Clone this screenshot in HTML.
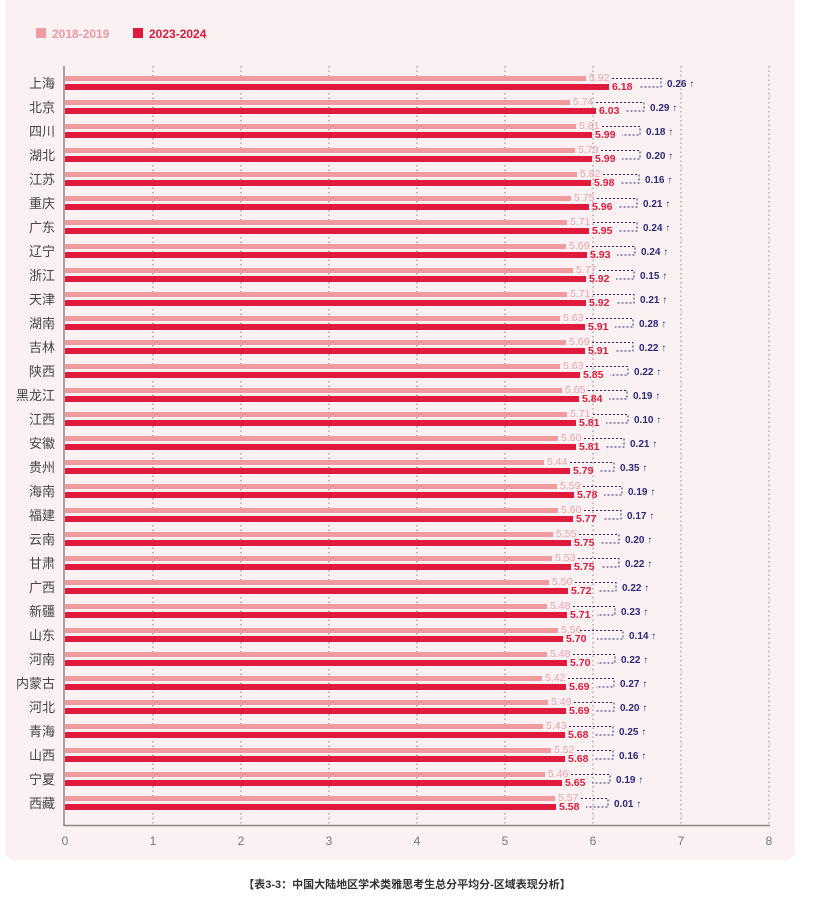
<!DOCTYPE html>
<html><head><meta charset="utf-8"><style>
html,body{margin:0;padding:0;background:#fff;width:814px;height:899px;overflow:hidden}
svg{display:block;font-family:"Liberation Sans","Noto Sans CJK SC",sans-serif}
.l{fill:#ee9aa0}.d{fill:#e01a3c}
.lt{fill:#f0a3aa;font-size:10.5px}.dt{fill:#e01a3c;font-size:10.5px;font-weight:bold}
.br{fill:none;stroke:#2b2a78;stroke-width:1;stroke-dasharray:2,2}
.df{fill:#2b2a78;font-size:10px;font-weight:bold}
.pv{fill:#444;font-size:13px;text-anchor:end}
.g{stroke:#888;stroke-width:1;stroke-dasharray:1.5,3}
.tk{fill:#777;font-size:12px;text-anchor:middle}
.r path{transform:translateX(-4px)}
.r .df{transform:translateX(-4px)}
</style></head><body>
<svg width="814" height="899" viewBox="0 0 814 899">
<rect x="5" y="-10" width="790" height="870" rx="10" fill="#fbf1f3"/>
<rect x="36" y="28" width="10" height="10" fill="#ee9aa0"/>
<text x="52" y="38" font-size="12" font-weight="bold" fill="#ee9aa0">2018-2019</text>
<rect x="133" y="28" width="10" height="10" fill="#e01a3c"/>
<text x="149" y="38" font-size="12" font-weight="bold" fill="#e01a3c">2023-2024</text>
<g>
<line class="g" x1="153" y1="66" x2="153" y2="825"/>
<line class="g" x1="241" y1="66" x2="241" y2="825"/>
<line class="g" x1="329" y1="66" x2="329" y2="825"/>
<line class="g" x1="417" y1="66" x2="417" y2="825"/>
<line class="g" x1="505" y1="66" x2="505" y2="825"/>
<line class="g" x1="593" y1="66" x2="593" y2="825"/>
<line class="g" x1="681" y1="66" x2="681" y2="825"/>
<line class="g" x1="769" y1="66" x2="769" y2="825"/>
</g>
<line x1="64" y1="66" x2="64" y2="826" stroke="#888" stroke-width="1.5"/>
<line x1="64" y1="825.5" x2="770" y2="825.5" stroke="#888" stroke-width="1.5"/>
<g>
<text class="tk" x="65" y="845">0</text><text class="tk" x="153" y="845">1</text><text class="tk" x="241" y="845">2</text><text class="tk" x="329" y="845">3</text><text class="tk" x="417" y="845">4</text><text class="tk" x="505" y="845">5</text><text class="tk" x="593" y="845">6</text><text class="tk" x="681" y="845">7</text><text class="tk" x="769" y="845">8</text>
</g>
<g class="r">
<g transform="translate(65,83)"><text class="pv" x="-10" y="5">上海</text><rect y="-7" width="521" height="5" class="l"/><rect y="1" width="544" height="6" class="d"/><text class="lt" x="524" y="-2">5.92</text><text class="dt" x="547" y="7">6.18</text><path class="br" d="M551 -4.5H600V4H578"/><text class="df" x="606" y="4">0.26 ↑</text></g>
<g transform="translate(65,107)"><text class="pv" x="-10" y="5">北京</text><rect y="-7" width="505" height="5" class="l"/><rect y="1" width="531" height="6" class="d"/><text class="lt" x="508" y="-2">5.74</text><text class="dt" x="534" y="7">6.03</text><path class="br" d="M535 -4.5H583V4H565"/><text class="df" x="589" y="4">0.29 ↑</text></g>
<g transform="translate(65,131)"><text class="pv" x="-10" y="5">四川</text><rect y="-7" width="511" height="5" class="l"/><rect y="1" width="527" height="6" class="d"/><text class="lt" x="514" y="-2">5.81</text><text class="dt" x="530" y="7">5.99</text><path class="br" d="M541 -4.5H579V4H561"/><text class="df" x="585" y="4">0.18 ↑</text></g>
<g transform="translate(65,155)"><text class="pv" x="-10" y="5">湖北</text><rect y="-7" width="510" height="5" class="l"/><rect y="1" width="527" height="6" class="d"/><text class="lt" x="513" y="-2">5.79</text><text class="dt" x="530" y="7">5.99</text><path class="br" d="M540 -4.5H579V4H561"/><text class="df" x="585" y="4">0.20 ↑</text></g>
<g transform="translate(65,179)"><text class="pv" x="-10" y="5">江苏</text><rect y="-7" width="512" height="5" class="l"/><rect y="1" width="526" height="6" class="d"/><text class="lt" x="515" y="-2">5.82</text><text class="dt" x="529" y="7">5.98</text><path class="br" d="M542 -4.5H578V4H560"/><text class="df" x="584" y="4">0.16 ↑</text></g>
<g transform="translate(65,203)"><text class="pv" x="-10" y="5">重庆</text><rect y="-7" width="506" height="5" class="l"/><rect y="1" width="524" height="6" class="d"/><text class="lt" x="509" y="-2">5.75</text><text class="dt" x="527" y="7">5.96</text><path class="br" d="M536 -4.5H576V4H558"/><text class="df" x="582" y="4">0.21 ↑</text></g>
<g transform="translate(65,227)"><text class="pv" x="-10" y="5">广东</text><rect y="-7" width="502" height="5" class="l"/><rect y="1" width="524" height="6" class="d"/><text class="lt" x="505" y="-2">5.71</text><text class="dt" x="527" y="7">5.95</text><path class="br" d="M532 -4.5H576V4H558"/><text class="df" x="582" y="4">0.24 ↑</text></g>
<g transform="translate(65,251)"><text class="pv" x="-10" y="5">辽宁</text><rect y="-7" width="501" height="5" class="l"/><rect y="1" width="522" height="6" class="d"/><text class="lt" x="504" y="-2">5.69</text><text class="dt" x="525" y="7">5.93</text><path class="br" d="M531 -4.5H574V4H556"/><text class="df" x="580" y="4">0.24 ↑</text></g>
<g transform="translate(65,275)"><text class="pv" x="-10" y="5">浙江</text><rect y="-7" width="508" height="5" class="l"/><rect y="1" width="521" height="6" class="d"/><text class="lt" x="511" y="-2">5.77</text><text class="dt" x="524" y="7">5.92</text><path class="br" d="M538 -4.5H573V4H555"/><text class="df" x="579" y="4">0.15 ↑</text></g>
<g transform="translate(65,299)"><text class="pv" x="-10" y="5">天津</text><rect y="-7" width="502" height="5" class="l"/><rect y="1" width="521" height="6" class="d"/><text class="lt" x="505" y="-2">5.71</text><text class="dt" x="524" y="7">5.92</text><path class="br" d="M532 -4.5H573V4H555"/><text class="df" x="579" y="4">0.21 ↑</text></g>
<g transform="translate(65,323)"><text class="pv" x="-10" y="5">湖南</text><rect y="-7" width="495" height="5" class="l"/><rect y="1" width="520" height="6" class="d"/><text class="lt" x="498" y="-2">5.63</text><text class="dt" x="523" y="7">5.91</text><path class="br" d="M525 -4.5H572V4H554"/><text class="df" x="578" y="4">0.28 ↑</text></g>
<g transform="translate(65,347)"><text class="pv" x="-10" y="5">吉林</text><rect y="-7" width="501" height="5" class="l"/><rect y="1" width="520" height="6" class="d"/><text class="lt" x="504" y="-2">5.69</text><text class="dt" x="523" y="7">5.91</text><path class="br" d="M531 -4.5H572V4H554"/><text class="df" x="578" y="4">0.22 ↑</text></g>
<g transform="translate(65,371)"><text class="pv" x="-10" y="5">陕西</text><rect y="-7" width="495" height="5" class="l"/><rect y="1" width="515" height="6" class="d"/><text class="lt" x="498" y="-2">5.63</text><text class="dt" x="518" y="7">5.85</text><path class="br" d="M525 -4.5H567V4H549"/><text class="df" x="573" y="4">0.22 ↑</text></g>
<g transform="translate(65,395)"><text class="pv" x="-10" y="5">黑龙江</text><rect y="-7" width="497" height="5" class="l"/><rect y="1" width="514" height="6" class="d"/><text class="lt" x="500" y="-2">5.65</text><text class="dt" x="517" y="7">5.84</text><path class="br" d="M527 -4.5H566V4H548"/><text class="df" x="572" y="4">0.19 ↑</text></g>
<g transform="translate(65,419)"><text class="pv" x="-10" y="5">江西</text><rect y="-7" width="502" height="5" class="l"/><rect y="1" width="511" height="6" class="d"/><text class="lt" x="505" y="-2">5.71</text><text class="dt" x="514" y="7">5.81</text><path class="br" d="M532 -4.5H567V4H545"/><text class="df" x="573" y="4">0.10 ↑</text></g>
<g transform="translate(65,443)"><text class="pv" x="-10" y="5">安徽</text><rect y="-7" width="493" height="5" class="l"/><rect y="1" width="511" height="6" class="d"/><text class="lt" x="496" y="-2">5.60</text><text class="dt" x="514" y="7">5.81</text><path class="br" d="M523 -4.5H563V4H545"/><text class="df" x="569" y="4">0.21 ↑</text></g>
<g transform="translate(65,467)"><text class="pv" x="-10" y="5">贵州</text><rect y="-7" width="479" height="5" class="l"/><rect y="1" width="505" height="6" class="d"/><text class="lt" x="482" y="-2">5.44</text><text class="dt" x="508" y="7">5.79</text><path class="br" d="M509 -4.5H553V4H539"/><text class="df" x="559" y="4">0.35 ↑</text></g>
<g transform="translate(65,491)"><text class="pv" x="-10" y="5">海南</text><rect y="-7" width="492" height="5" class="l"/><rect y="1" width="509" height="6" class="d"/><text class="lt" x="495" y="-2">5.59</text><text class="dt" x="512" y="7">5.78</text><path class="br" d="M522 -4.5H561V4H543"/><text class="df" x="567" y="4">0.19 ↑</text></g>
<g transform="translate(65,515)"><text class="pv" x="-10" y="5">福建</text><rect y="-7" width="493" height="5" class="l"/><rect y="1" width="508" height="6" class="d"/><text class="lt" x="496" y="-2">5.60</text><text class="dt" x="511" y="7">5.77</text><path class="br" d="M523 -4.5H560V4H542"/><text class="df" x="566" y="4">0.17 ↑</text></g>
<g transform="translate(65,539)"><text class="pv" x="-10" y="5">云南</text><rect y="-7" width="488" height="5" class="l"/><rect y="1" width="506" height="6" class="d"/><text class="lt" x="491" y="-2">5.55</text><text class="dt" x="509" y="7">5.75</text><path class="br" d="M518 -4.5H558V4H540"/><text class="df" x="564" y="4">0.20 ↑</text></g>
<g transform="translate(65,563)"><text class="pv" x="-10" y="5">甘肃</text><rect y="-7" width="487" height="5" class="l"/><rect y="1" width="506" height="6" class="d"/><text class="lt" x="490" y="-2">5.53</text><text class="dt" x="509" y="7">5.75</text><path class="br" d="M517 -4.5H558V4H540"/><text class="df" x="564" y="4">0.22 ↑</text></g>
<g transform="translate(65,587)"><text class="pv" x="-10" y="5">广西</text><rect y="-7" width="484" height="5" class="l"/><rect y="1" width="503" height="6" class="d"/><text class="lt" x="487" y="-2">5.50</text><text class="dt" x="506" y="7">5.72</text><path class="br" d="M514 -4.5H555V4H537"/><text class="df" x="561" y="4">0.22 ↑</text></g>
<g transform="translate(65,611)"><text class="pv" x="-10" y="5">新疆</text><rect y="-7" width="482" height="5" class="l"/><rect y="1" width="502" height="6" class="d"/><text class="lt" x="485" y="-2">5.48</text><text class="dt" x="505" y="7">5.71</text><path class="br" d="M512 -4.5H554V4H536"/><text class="df" x="560" y="4">0.23 ↑</text></g>
<g transform="translate(65,635)"><text class="pv" x="-10" y="5">山东</text><rect y="-7" width="493" height="5" class="l"/><rect y="1" width="498" height="6" class="d"/><text class="lt" x="496" y="-2">5.56</text><text class="dt" x="501" y="7">5.70</text><path class="br" d="M519 -4.5H562V4H536"/><text class="df" x="568" y="4">0.14 ↑</text></g>
<g transform="translate(65,659)"><text class="pv" x="-10" y="5">河南</text><rect y="-7" width="482" height="5" class="l"/><rect y="1" width="502" height="6" class="d"/><text class="lt" x="485" y="-2">5.48</text><text class="dt" x="505" y="7">5.70</text><path class="br" d="M512 -4.5H554V4H536"/><text class="df" x="560" y="4">0.22 ↑</text></g>
<g transform="translate(65,683)"><text class="pv" x="-10" y="5">内蒙古</text><rect y="-7" width="477" height="5" class="l"/><rect y="1" width="501" height="6" class="d"/><text class="lt" x="480" y="-2">5.42</text><text class="dt" x="504" y="7">5.69</text><path class="br" d="M507 -4.5H553V4H535"/><text class="df" x="559" y="4">0.27 ↑</text></g>
<g transform="translate(65,707)"><text class="pv" x="-10" y="5">河北</text><rect y="-7" width="483" height="5" class="l"/><rect y="1" width="501" height="6" class="d"/><text class="lt" x="486" y="-2">5.49</text><text class="dt" x="504" y="7">5.69</text><path class="br" d="M513 -4.5H553V4H535"/><text class="df" x="559" y="4">0.20 ↑</text></g>
<g transform="translate(65,731)"><text class="pv" x="-10" y="5">青海</text><rect y="-7" width="478" height="5" class="l"/><rect y="1" width="500" height="6" class="d"/><text class="lt" x="481" y="-2">5.43</text><text class="dt" x="503" y="7">5.68</text><path class="br" d="M508 -4.5H552V4H534"/><text class="df" x="558" y="4">0.25 ↑</text></g>
<g transform="translate(65,755)"><text class="pv" x="-10" y="5">山西</text><rect y="-7" width="486" height="5" class="l"/><rect y="1" width="500" height="6" class="d"/><text class="lt" x="489" y="-2">5.52</text><text class="dt" x="503" y="7">5.68</text><path class="br" d="M516 -4.5H552V4H534"/><text class="df" x="558" y="4">0.16 ↑</text></g>
<g transform="translate(65,779)"><text class="pv" x="-10" y="5">宁夏</text><rect y="-7" width="480" height="5" class="l"/><rect y="1" width="497" height="6" class="d"/><text class="lt" x="483" y="-2">5.46</text><text class="dt" x="500" y="7">5.65</text><path class="br" d="M510 -4.5H549V4H531"/><text class="df" x="555" y="4">0.19 ↑</text></g>
<g transform="translate(65,803)"><text class="pv" x="-10" y="5">西藏</text><rect y="-7" width="490" height="5" class="l"/><rect y="1" width="491" height="6" class="d"/><text class="lt" x="493" y="-2">5.57</text><text class="dt" x="494" y="7">5.58</text><path class="br" d="M520 -4.5H547V4H525"/><text class="df" x="553" y="4">0.01 ↑</text></g>
</g>
<text x="407" y="888" text-anchor="middle" font-size="11" font-weight="bold" fill="#333">【表3-3：中国大陆地区学术类雅思考生总分平均分-区域表现分析】</text>
</svg>
</body></html>
